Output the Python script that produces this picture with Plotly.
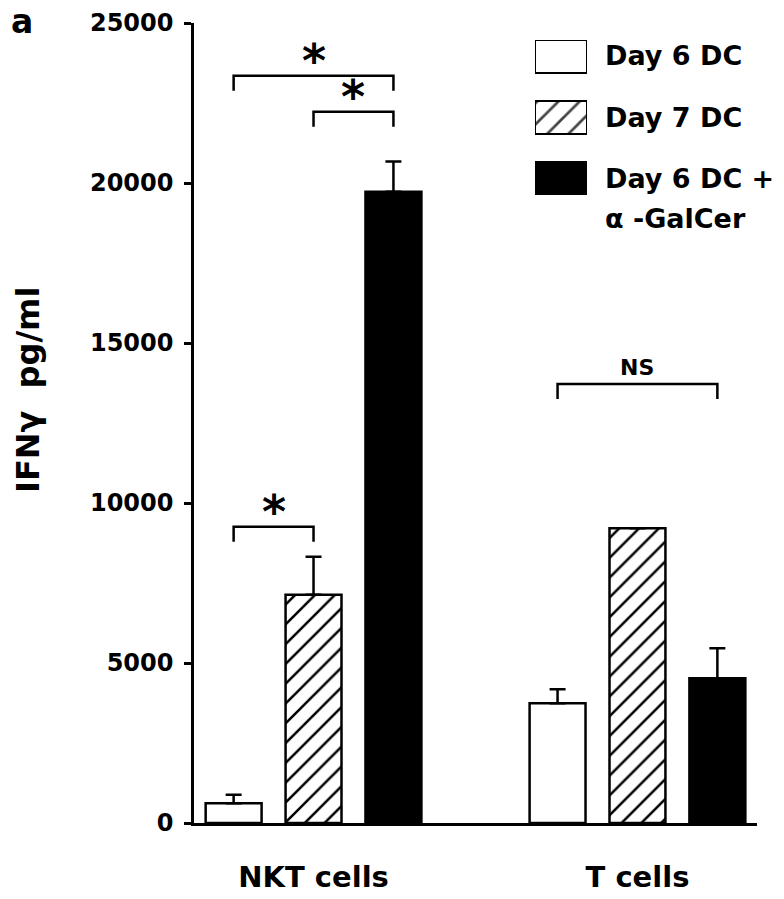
import plotly.graph_objects as go

# Dados (IFN-gamma pg/ml)
grupos = ["NKT cells", "T cells"]
series = ["Day 6 DC", "Day 7 DC", "Day 6 DC +"]
day6_dc = [620, 3740]
day6_dc_err = [260, 440]
day7_dc = [7130, 9210]
day7_dc_err = [1190, 0]
galcer_dc = [19730, 4520]
galcer_dc_err = [940, 940]
y_ticks = [0, 5000, 10000, 15000, 20000, 25000]

# Comparações: (grupo, barra inicial, barra final, nível, rótulo)
comparacoes = [
    (0, 0, 2, 23350, "*"),
    (0, 1, 2, 22230, "*"),
    (0, 0, 1, 9260, "*"),
    (1, 0, 2, 13720, "NS"),
]

# Geometria da área do gráfico (pixels da janela); a página tem margem de 8px
OFF = 8
L, R, T, B = 194, 757, 23, 823
W, H = 784 - OFF, 899 - OFF
bargap = 0.26
slot = (1 - bargap) / 3
font_fam = "DejaVu Sans"


def px_x(px):
    return (px - L) / (R - L)


def px_y(py):
    return (B - py) / (B - T)


def fonte(size):
    return dict(family=font_fam, size=size, color="black", weight="bold")


x_pos = list(range(len(grupos)))
hatch = dict(shape="/", fgcolor="black", bgcolor="white", fgopacity=1, size=14, solidity=0.18)
linha = dict(color="black", width=2.5)


def erro(valores):
    return dict(type="data", array=valores, arrayminus=[0] * len(valores),
                symmetric=False, color="black", thickness=2.5, width=8)


fig = go.Figure()
fig.add_trace(go.Bar(x=x_pos, y=day6_dc, name=series[0], error_y=erro(day6_dc_err),
                     marker=dict(color="white", line=linha)))
fig.add_trace(go.Bar(x=x_pos, y=day7_dc, name=series[1], error_y=erro(day7_dc_err),
                     marker=dict(color="white", pattern=hatch, line=linha)))
fig.add_trace(go.Bar(x=x_pos, y=galcer_dc, name=series[2], error_y=erro(galcer_dc_err),
                     marker=dict(color="black", line=linha)))

# Legenda desenhada como barras num eixo próprio
fig.add_trace(go.Bar(
    x=[1, 1, 1], y=[0, 1, 2], base=0, orientation="h", width=0.54,
    xaxis="x2", yaxis="y2", showlegend=False, hoverinfo="skip",
    marker=dict(color=["white", "white", "black"],
                pattern=dict(shape=["", "/", ""], fgcolor="black", bgcolor="white",
                             fgopacity=1, size=15, solidity=0.18),
                line=dict(color="black", width=2)),
))

legenda_y = [55, 117, 179]
anots = []
for nome, py in zip(series, legenda_y):
    anots.append(dict(text=nome, x=px_x(603), y=px_y(py), xref="paper", yref="paper",
                      xanchor="left", yanchor="middle", showarrow=False, font=fonte(27)))
anots.append(dict(text="α -GalCer", x=px_x(603), y=px_y(218), xref="paper", yref="paper",
                  xanchor="left", yanchor="middle", showarrow=False, font=fonte(27)))

# Colchetes de significância
shapes = []
queda = 470
for g, a, b, nivel, rotulo in comparacoes:
    x1 = g + (a - 1) * slot
    x2 = g + (b - 1) * slot
    shapes.append(dict(type="path", xref="x", yref="y",
                       path=f"M {x1},{nivel - queda} L {x1},{nivel} L {x2},{nivel} L {x2},{nivel - queda}",
                       line=dict(color="black", width=2.5)))
    if rotulo == "*":
        anots.append(dict(text="*", x=(x1 + x2) / 2, y=nivel, xref="x", yref="y",
                          xanchor="center", yanchor="bottom", yshift=-14, showarrow=False,
                          font=fonte(46)))
    else:
        anots.append(dict(text=rotulo, x=(x1 + x2) / 2, y=nivel, xref="x", yref="y",
                          xanchor="center", yanchor="bottom", yshift=2, showarrow=False,
                          font=fonte(22)))

# Título do eixo y e rótulo do painel
anots.append(dict(text="IFNγ  pg/ml", x=px_x(28), y=px_y(390), xref="paper", yref="paper",
                  textangle=-90, showarrow=False, xanchor="center", yanchor="middle",
                  font=fonte(32)))
anots.append(dict(text="a", x=px_x(9), y=px_y(21), xref="paper", yref="paper",
                  xanchor="left", yanchor="middle", showarrow=False, font=fonte(33)))

fig.update_layout(
    width=W, height=H,
    margin=dict(l=L - OFF, r=W - (R - OFF), t=T - OFF, b=H - (B - OFF)),
    paper_bgcolor="white", plot_bgcolor="white",
    barmode="group", bargap=bargap, bargroupgap=0.3,
    showlegend=False,
    annotations=anots, shapes=shapes,
    xaxis=dict(range=[-0.369, 1.369], tickvals=x_pos, ticktext=grupos,
               showline=True, linecolor="black", linewidth=2.5, showgrid=False,
               zeroline=False, ticks="", ticklabelstandoff=26, automargin=False,
               tickfont=fonte(29)),
    yaxis=dict(range=[0, 25000], tickvals=y_ticks, tickformat="d",
               showline=True, linecolor="black", linewidth=2.5, showgrid=False,
               zeroline=False, ticks="outside", ticklen=7, tickwidth=2.5, tickcolor="black",
               ticklabelstandoff=6, automargin=False,
               tickfont=fonte(24)),
    xaxis2=dict(domain=[px_x(535), px_x(587)], range=[0, 1], anchor="y2",
                visible=False, fixedrange=True),
    yaxis2=dict(domain=[px_y(195), px_y(40)], range=[2.27, -0.27], anchor="x2",
                visible=False, fixedrange=True),
)

fig.write_html("out.html")
